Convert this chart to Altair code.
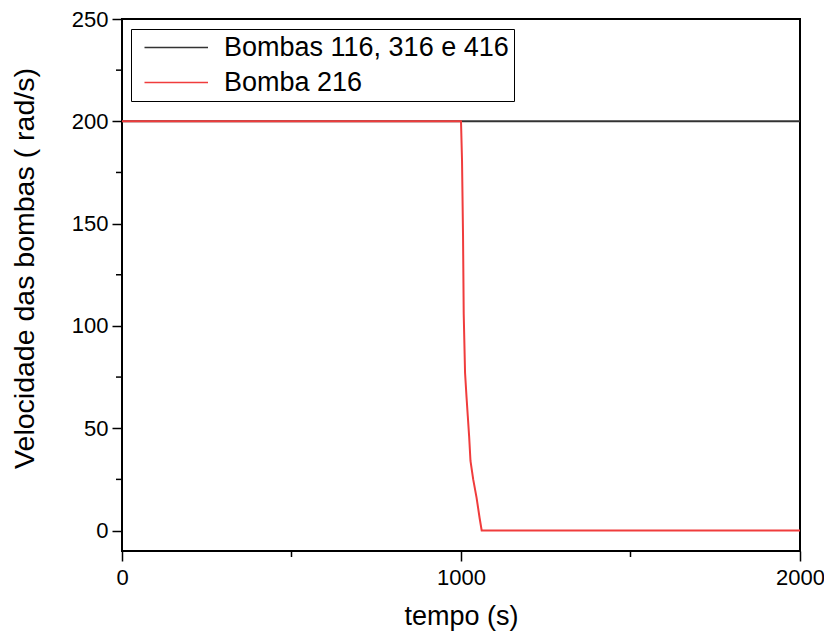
import altair as alt
import pandas as pd

FONT = "Liberation Sans"

series = ["Bombas 116, 316 e 416", "Bomba 216"]
colors = ["#333333", "#f03c3c"]

tempo_116 = [0, 2000]
vel_116 = [200, 200]

tempo_216 = [0, 1000, 1003, 1006, 1008, 1012, 1016, 1020, 1024, 1028, 1036, 1046, 1055, 1061, 2000]
vel_216 = [200, 200, 181, 144, 106, 77, 66, 56, 46, 34, 25, 16, 6, 0, 0]

x_major = [0, 1000, 2000]
x_minor = [500, 1500]
y_major = [0, 50, 100, 150, 200, 250]
y_minor = [25, 75, 125, 175, 225]

df_a = pd.DataFrame({"tempo": tempo_116, "vel": vel_116, "serie": series[0]})
df_b = pd.DataFrame({"tempo": tempo_216, "vel": vel_216, "serie": series[1]})
df_xm = pd.DataFrame({"tempo": x_minor})
df_ym = pd.DataFrame({"vel": y_minor})

xscale = alt.Scale(domain=[0, 2000], nice=False, zero=False)
yscale = alt.Scale(domain=[-10, 250], nice=False, zero=False)

color = alt.Color(
    "serie:N",
    scale=alt.Scale(domain=series, range=colors),
    legend=alt.Legend(
        title=None,
        orient="none",
        legendX=9,
        legendY=10,
        symbolType="M-1,0H11.7",
        symbolSize=100,
        symbolStrokeWidth=1.5,
        labelOffset=61,
        padding=5,
        rowPadding=7,
        labelFontSize=27,
        labelFont=FONT,
        labelLimit=1000,
        labelColor="black",
        strokeColor="black",
        fillColor="white",
    ),
)

x_axis = alt.Axis(
    values=x_major,
    title="tempo (s)",
    format="d",
    labelFlush=False,
    labelOverlap=False,
    labelPadding=6,
    tickSize=10,
    tickWidth=1.5,
    titleY=73,
    titleBaseline="alphabetic",
)
y_axis = alt.Axis(
    values=y_major,
    title="Velocidade das bombas ( rad/s)",
    format="d",
    labelFlush=False,
    labelOverlap=False,
    labelPadding=4,
    tickSize=10,
    tickWidth=1.5,
    titleFontSize=28.5,
    titleAngle=270,
    titleX=-89,
    titleY=249,
    titleAlign="center",
    titleBaseline="alphabetic",
)

x_enc = alt.X("tempo:Q", scale=xscale, axis=x_axis)
y_enc = alt.Y("vel:Q", scale=yscale, axis=y_axis)

line_a = alt.Chart(df_a).mark_line(strokeWidth=2).encode(x=x_enc, y=y_enc, color=color)
line_b = alt.Chart(df_b).mark_line(strokeWidth=2).encode(x=x_enc, y=y_enc, color=color)

minor_y = alt.Chart(df_ym).mark_rule(color="black", strokeWidth=1.5).encode(
    y=alt.Y("vel:Q", scale=yscale, axis=y_axis),
    x=alt.value(-6),
    x2=alt.value(0),
)
minor_x = alt.Chart(df_xm).mark_rule(color="black", strokeWidth=1.5).encode(
    x=alt.X("tempo:Q", scale=xscale, axis=x_axis),
    y=alt.value(532),
    y2=alt.value(538),
)

chart = (
    alt.layer(line_a, line_b, minor_y, minor_x)
    .properties(
        width=678,
        height=532,
        background="white",
        autosize=alt.AutoSizeParams(type="none"),
        padding={"left": 114, "top": 11, "right": 24, "bottom": 80},
    )
    .configure_view(stroke="black", strokeWidth=2)
    .configure_axis(
        domain=False,
        grid=False,
        labelFont=FONT,
        labelFontSize=22,
        labelColor="black",
        titleFont=FONT,
        titleFontSize=27,
        titleFontWeight="normal",
        titleColor="black",
        tickColor="black",
    )
)

chart.save("out.html", embed_options={"renderer": "svg", "actions": False})
